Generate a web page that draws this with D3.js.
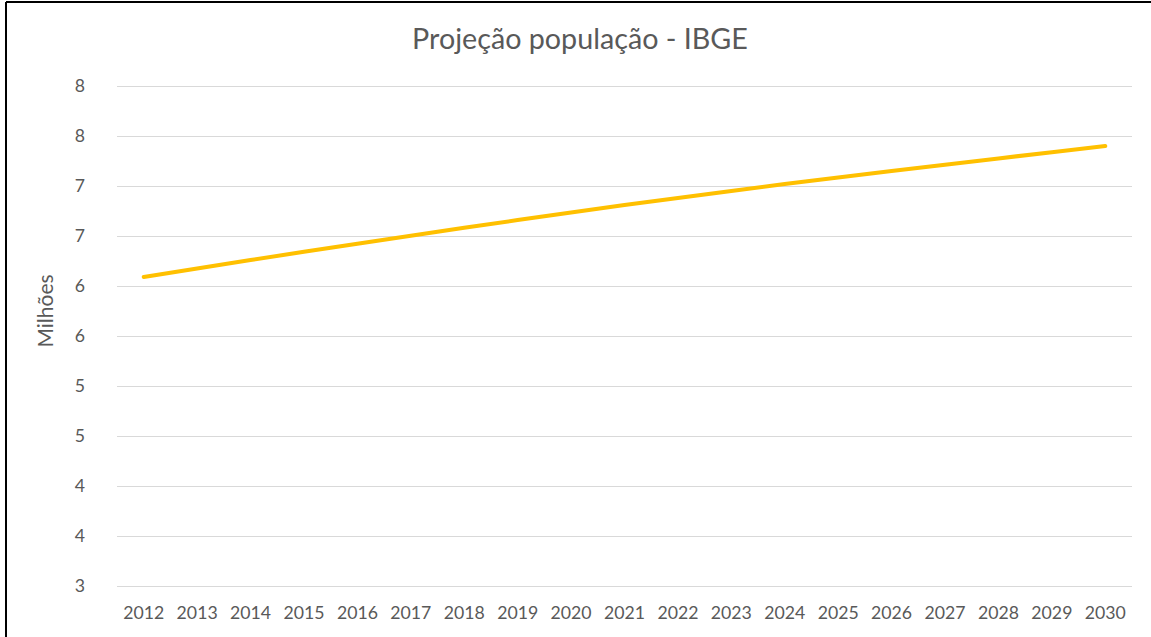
<!DOCTYPE html>
<html>
<head>
<meta charset="utf-8">
<script src="https://cdn.jsdelivr.net/npm/d3@7"></script>
<style>
  body { margin: 0; background: #fff; }
  .chart text { font-family: Lato, "Open Sans", sans-serif; fill: #595959; }
  .axis path { display: none; }
  .y-axis line { stroke: #d9d9d9; }
</style>
</head>
<body>
<div class="chart"></div>
<script>
// anos e populacao projetada (milhoes)
var years = ["2012", "2013", "2014", "2015", "2016", "2017", "2018", "2019", "2020", "2021",
             "2022", "2023", "2024", "2025", "2026", "2027", "2028", "2029", "2030"];
var population = [6.090, 6.175, 6.259, 6.342, 6.423, 6.503, 6.582, 6.659, 6.735, 6.809,
                  6.881, 6.951, 7.019, 7.085, 7.150, 7.213, 7.276, 7.338, 7.400];
var yTicks = [3, 3.5, 4, 4.5, 5, 5.5, 6, 6.5, 7, 7.5, 8];

var W = 1151, H = 637;
var margin = ({top: 86, right: 19, bottom: 51, left: 117});
var width = W - margin.left - margin.right,
    height = H - margin.top - margin.bottom;

var root = d3.select(".chart").append("svg")
    .attr("width", W)
    .attr("height", H);

// moldura (so topo e esquerda aparecem no recorte)
root.append("line")
    .attr("x1", 6).attr("x2", W).attr("y1", 2).attr("y2", 2)
    .attr("stroke", "#000").attr("stroke-width", 2);
root.append("line")
    .attr("x1", 6).attr("x2", 6).attr("y1", 2).attr("y2", H)
    .attr("stroke", "#000").attr("stroke-width", 2);

root.append("text")
    .attr("x", 580)
    .attr("y", 49)
    .attr("text-anchor", "middle")
    .style("font-size", "28.7px")
    .text("Projeção população - IBGE");

root.append("text")
    .attr("transform", "translate(53,311) rotate(-90)")
    .attr("text-anchor", "middle")
    .style("font-size", "21px")
    .text("Milhões");

var svg = root.append("g")
    .attr("transform", "translate(" + margin.left + "," + margin.top + ")");

const xScale = d3.scaleBand()
    .domain(years)
    .range([0, width])
    .padding(0);

const yScale = d3.scaleLinear()
    .domain([3, 8])
    .range([height, 0]);

const yAxis = d3.axisLeft(yScale)
    .tickValues(yTicks)
    .tickFormat(d3.format(".0f"))
    .tickSize(-width)
    .tickPadding(32);

svg.append("g")
    .attr("class", "axis y-axis")
    .call(yAxis)
    .selectAll("text")
    .style("font-size", "17.7px");

const xAxis = d3.axisBottom(xScale)
    .tickSize(0)
    .tickPadding(20);

svg.append("g")
    .attr("class", "axis x-axis")
    .attr("transform", `translate(0, ${height})`)
    .call(xAxis)
    .selectAll("text")
    .style("font-size", "17.7px");

const line = d3.line()
    .x((d, i) => xScale(years[i]) + xScale.bandwidth() / 2)
    .y(d => yScale(d));

svg.append("path")
    .datum(population)
    .attr("fill", "none")
    .attr("stroke", "#ffc000")
    .attr("stroke-width", 4)
    .attr("stroke-linecap", "round")
    .attr("d", line);
</script>
</body>
</html>
